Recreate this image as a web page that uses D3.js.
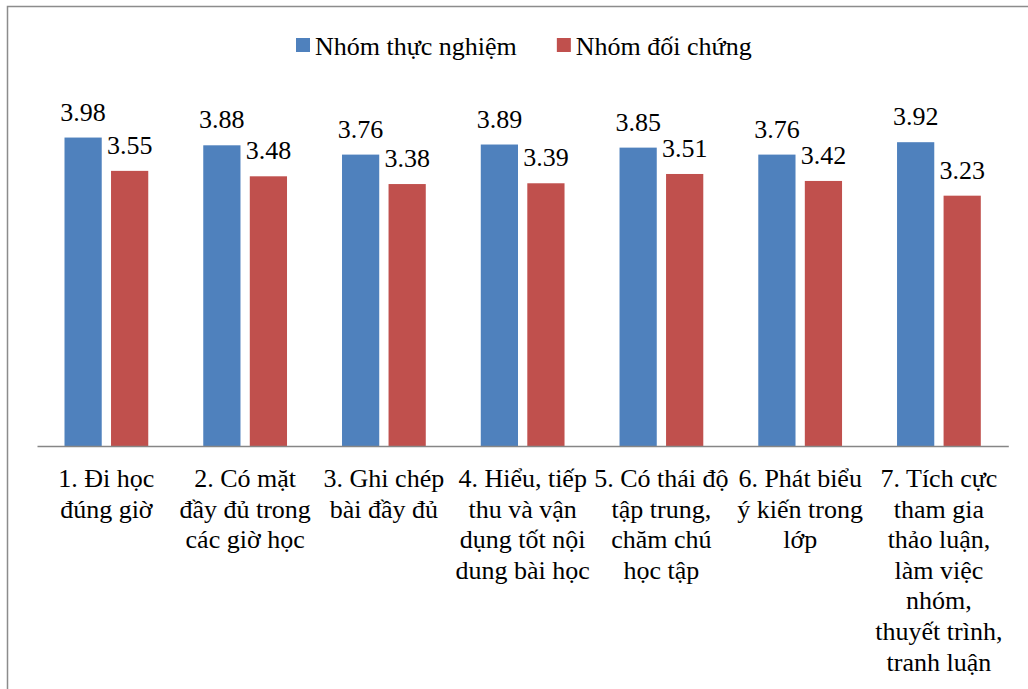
<!DOCTYPE html>
<html>
<head>
<meta charset="utf-8">
<script src="https://cdn.jsdelivr.net/npm/d3@7"></script>
</head>
<body style="margin:0">
<svg id="s" width="1028" height="689" style="font-family:'Times New Roman'"></svg>
<script>
const categories = [
  "1. Đi học\nđúng giờ",
  "2. Có mặt\nđầy đủ trong\ncác giờ học",
  "3. Ghi chép\nbài đầy đủ",
  "4. Hiểu, tiếp\nthu và vận\ndụng tốt nội\ndung bài học",
  "5. Có thái độ\ntập trung,\nchăm chú\nhọc tập",
  "6. Phát biểu\ný kiến trong\nlớp",
  "7. Tích cực\ntham gia\nthảo luận,\nlàm việc\nnhóm,\nthuyết trình,\ntranh luận"
];
const seriesNames = ["Nhóm thực nghiệm", "Nhóm đối chứng"];
const experimental = [3.98, 3.88, 3.76, 3.89, 3.85, 3.76, 3.92];
const control = [3.55, 3.48, 3.38, 3.39, 3.51, 3.42, 3.23];
const colors = ["#4F81BD", "#C0504D"];

const FONT = "'Times New Roman'";

const svg = d3.select("#s");

// outer chart frame
svg.append("rect")
  .attr("x", 7.5).attr("y", 6.5)
  .attr("width", 1100).attr("height", 800)
  .attr("fill", "none").attr("stroke", "#8c8c8c").attr("stroke-width", 1.5);

const x0 = d3.scaleBand().domain(categories).range([37, 1008.3]).padding(0);
const x1 = d3.scaleBand().domain(seriesNames)
  .range([27.5, x0.bandwidth() - 27.5]).paddingInner(0.2);
const y = d3.scaleLinear().domain([0, 4.5]).range([446, 446 - 4.5 * 77.5]);

const data = categories.map((c, i) => ({ cat: c, vals: [experimental[i], control[i]] }));

const groups = svg.append("g").selectAll("g").data(data).join("g")
  .attr("transform", d => `translate(${x0(d.cat)},0)`);

groups.selectAll("rect").data(d => d.vals.map((v, j) => ({ v, s: seriesNames[j], j })))
  .join("rect")
  .attr("x", d => x1(d.s))
  .attr("y", d => y(d.v))
  .attr("width", x1.bandwidth())
  .attr("height", d => y(0) - y(d.v))
  .attr("fill", d => colors[d.j]);

groups.selectAll("text.val").data(d => d.vals.map((v, j) => ({ v, s: seriesNames[j], j })))
  .join("text")
  .attr("class", "val")
  .attr("x", d => x1(d.s) + x1.bandwidth() / 2)
  .attr("y", d => y(d.v) - 17)
  .attr("text-anchor", "middle")
  .style("font-family", FONT)
  .style("font-size", "26px")
  .text(d => d3.format(".2f")(d.v));

// category axis line
const xAxis = d3.axisBottom(x0).tickSize(0).tickFormat("");
const axG = svg.append("g").attr("transform", `translate(0,${y(0)})`).call(xAxis);
axG.select(".domain").attr("stroke", "#868686").attr("stroke-width", 1.3);

const labG = svg.append("g");
categories.forEach(c => {
  const cx = x0(c) + x0.bandwidth() / 2;
  c.split("\n").forEach((line, k) => {
    labG.append("text")
      .attr("x", cx)
      .attr("y", 487 + k * 30.6)
      .attr("text-anchor", "middle")
      .style("font-family", FONT)
      .style("font-size", "26px")
      .text(line);
  });
});

// legend
const leg = svg.append("g");
let lx = 296;
seriesNames.forEach((name, j) => {
  leg.append("rect").attr("x", lx).attr("y", 38).attr("width", 14).attr("height", 14)
    .attr("fill", colors[j]);
  const t = leg.append("text").attr("x", lx + 19).attr("y", 55)
    .style("font-family", FONT)
    .style("font-size", "26px").text(name);
  lx = lx + 19 + t.node().getComputedTextLength() + 40;
});
</script>
</body>
</html>
